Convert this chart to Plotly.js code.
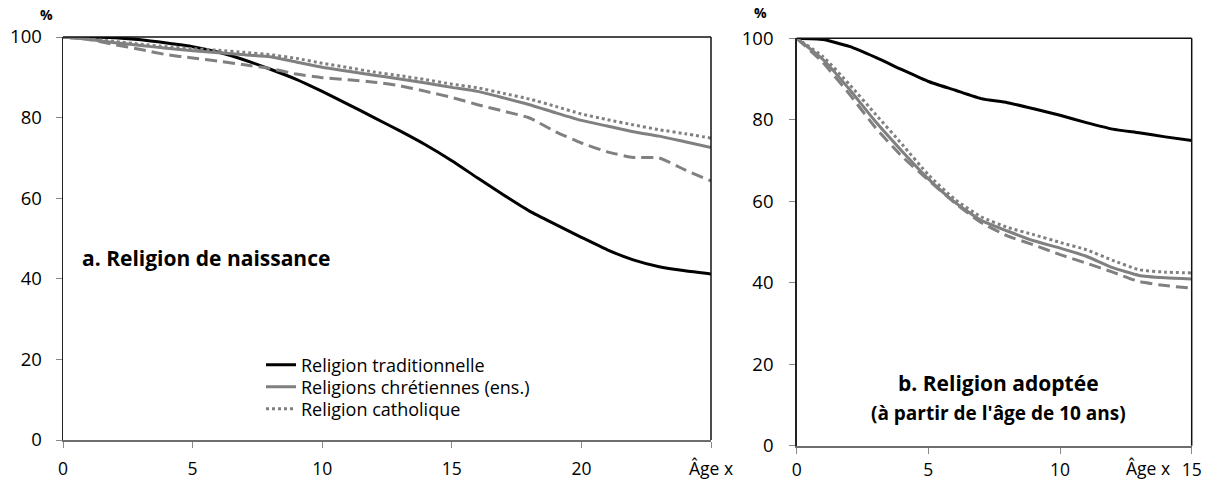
<!DOCTYPE html>
<html>
<head>
<meta charset="utf-8">
<script src="https://cdn.plot.ly/plotly-3.0.1.min.js"></script>
<style>html,body{margin:0;padding:0;background:#fff;}#chart{width:1206px;height:481px;}</style>
</head>
<body>
<div id="chart"></div>
<script>
// ---- Data ----
// Panel a: Religion de naissance (age x = 0..25)
const ageA = [0,1,2,3,4,5,6,7,8,9,10,11,12,13,14,15,16,17,18,19,20,21,22,23,24,25];
const tradA = [100,100,99.8,99.3,98.5,97.6,96.2,94.3,92.0,89.5,86.5,83.3,80.0,76.7,73.2,69.3,65.0,60.8,56.8,53.5,50.3,47.2,44.7,43.0,42.0,41.2];
const chretA = [100,99.4,98.6,97.9,97.2,96.6,96.1,95.6,95.1,93.8,92.5,91.5,90.5,89.6,88.6,87.5,86.5,84.9,83.2,81.2,79.3,77.9,76.5,75.4,74.0,72.6];
const cathoA = [100,99.5,98.9,98.2,97.6,97.1,96.7,96.2,95.6,94.7,93.5,92.4,91.3,90.4,89.4,88.3,87.4,86.0,84.6,82.8,80.9,79.5,78.2,77.0,76.0,74.9];
const autreA = [100,99.4,98.1,96.9,95.6,94.8,94.0,93.1,92.2,90.8,89.9,89.4,88.8,87.9,86.5,85.0,83.2,81.6,79.9,76.5,73.7,71.5,70.1,70.0,67.0,64.3];
// Panel b: Religion adoptée (à partir de 10 ans), age x = 0..15
const ageB = [0,1,2,3,4,5,6,7,8,9,10,11,12,13,14,15];
const tradB = [100,99.7,98.0,95.3,92.3,89.4,87.3,85.2,84.2,82.7,81.1,79.3,77.7,76.8,75.8,74.9];
const chretB = [100,94.8,87.5,79.5,72.3,65.5,59.8,55.3,52.7,50.3,48.5,46.5,43.7,41.8,41.2,40.9];
const cathoB = [100,95.5,88.7,81.3,74.0,66.5,60.5,56.2,53.6,51.8,49.9,48.1,45.5,43.2,42.6,42.4];
const autreB = [100,94.0,86.3,78.0,71.0,65.2,59.6,54.8,51.5,49.3,46.9,44.8,42.6,40.3,39.3,38.7];
// Tick labels
const xTicksA = [0,5,10,15,20,25];
const xTextA = ["0","5","10","15","20","Âge x"];
const xTicksB = [0,5,10,15];
const xTextB = ["0","5","10","15"];
const yTicks = [0,20,40,60,80,100];
const names = ["Religion traditionnelle","Religions chrétiennes (ens.)","Religion catholique","Autres religions chrétiennes"];

const FONT = "'Open Sans', 'Noto Sans', sans-serif";
const GRAY = "#808080";
function tr(x, y, name, color, dash, xa, ya, show, leg) {
  return {x: x, y: y, name: name, type: "scatter", mode: "lines",
    line: {color: color, width: 3, dash: dash, shape: "spline", smoothing: 0.5},
    xaxis: xa, yaxis: ya, showlegend: show, legend: leg || "legend", hoverinfo: "skip"};
}
const traces = [
  tr(ageA, tradA, names[0], "#000", "solid", "x", "y", true, "legend"),
  tr(ageA, chretA, names[1], GRAY, "solid", "x", "y", true, "legend2"),
  tr(ageA, cathoA, names[2], GRAY, "dot", "x", "y", true, "legend3"),
  tr(ageA, autreA, names[3], GRAY, "12px,6px", "x", "y", false),
  tr(ageB, tradB, names[0], "#000", "solid", "x2", "y2", false),
  tr(ageB, chretB, names[1], GRAY, "solid", "x2", "y2", false),
  tr(ageB, cathoB, names[2], GRAY, "dot", "x2", "y2", false),
  tr(ageB, autreB, names[3], GRAY, "12px,6px", "x2", "y2", false)
];
const W = 1206, H = 481;
const TFY = {family: FONT, size: 18.5, color: "#000"};
const TFX = {family: FONT, size: 17.5, color: "#000"};
const axX = {showgrid: false, zeroline: false, showline: true, linecolor: "#6e6e6e", linewidth: 2,
  ticks: "outside", ticklen: 6, tickcolor: "#888", tickwidth: 1, tickfont: TFX, fixedrange: true};
const axY = {showgrid: false, zeroline: false, showline: true, linecolor: "#222", linewidth: 1.5,
  ticks: "outside", ticklen: 6, tickcolor: "#888", tickwidth: 1, range: [0, 100],
  tickvals: yTicks, ticktext: yTicks.map(String), ticklabelstandoff: 10, tickfont: TFY, fixedrange: true};
function leg(yc) {
  return {x: 261/W, y: 1 - yc/H, xanchor: "left", yanchor: "middle", bgcolor: "rgba(0,0,0,0)",
    font: {family: FONT, size: 18, color: "#000"}, itemclick: false, itemdoubleclick: false};
}
const layout = {
  width: W, height: H, margin: {l: 0, r: 0, t: 0, b: 0},
  paper_bgcolor: "#fff", plot_bgcolor: "#fff",
  font: {family: FONT, color: "#000"},
  xaxis: Object.assign({}, axX, {domain: [63/W, 711/W], range: [0, 25], tickvals: xTicksA, ticktext: xTextA, ticklabelstandoff: 6, anchor: "y"}),
  yaxis: Object.assign({}, axY, {domain: [1 - 440/H, 1 - 37/H], anchor: "x"}),
  xaxis2: Object.assign({}, axX, {domain: [796.7/W, 1191.7/W], range: [0, 15], tickvals: xTicksB, ticktext: xTextB, ticklabelstandoff: 1, anchor: "y2"}),
  yaxis2: Object.assign({}, axY, {domain: [1 - 445.7/H, 1 - 38.3/H], anchor: "x2", ticklabelstandoff: 12}),
  showlegend: true,
  legend: leg(365), legend2: leg(387), legend3: leg(409),
  shapes: [
    {type: "line", xref: "x domain", yref: "y domain", x0: 0, x1: 1, y0: 1, y1: 1, line: {color: "#111", width: 1.5}},
    {type: "line", xref: "x domain", yref: "y domain", x0: 1, x1: 1, y0: 0, y1: 1, line: {color: "#111", width: 1.5}},
    {type: "line", xref: "x2 domain", yref: "y2 domain", x0: 0, x1: 1, y0: 1, y1: 1, line: {color: "#111", width: 1.5}},
    {type: "line", xref: "x2 domain", yref: "y2 domain", x0: 1, x1: 1, y0: 0, y1: 1, line: {color: "#111", width: 1.5}}
  ],
  annotations: [
    {text: "<b>%</b>", xref: "paper", yref: "paper", x: 46/W, y: 1 - 14/H, xanchor: "center", yanchor: "middle", showarrow: false, font: {family: FONT, size: 14}},
    {text: "<b>%</b>", xref: "paper", yref: "paper", x: 760/W, y: 1 - 13/H, xanchor: "center", yanchor: "middle", showarrow: false, font: {family: FONT, size: 14}},
    {text: "<b>a. Religion de naissance</b>", xref: "paper", yref: "paper", x: 80/W, y: 1 - 258/H, xanchor: "left", yanchor: "middle", showarrow: false, font: {family: FONT, size: 21}},
    {text: "<b>b. Religion adoptée</b>", xref: "paper", yref: "paper", x: 998/W, y: 1 - 383/H, xanchor: "center", yanchor: "middle", showarrow: false, font: {family: FONT, size: 21}},
    {text: "<b>(à partir de l'âge de 10 ans)</b>", xref: "paper", yref: "paper", x: 998/W, y: 1 - 413/H, xanchor: "center", yanchor: "middle", showarrow: false, font: {family: FONT, size: 19}},
    {text: "Âge x", xref: "paper", yref: "paper", x: 1148/W, y: 1 - 468/H, xanchor: "center", yanchor: "middle", showarrow: false, font: {family: FONT, size: 17.5}}
  ]
};
Plotly.newPlot("chart", traces, layout, {displayModeBar: false, staticPlot: true});
</script>
</body>
</html>
